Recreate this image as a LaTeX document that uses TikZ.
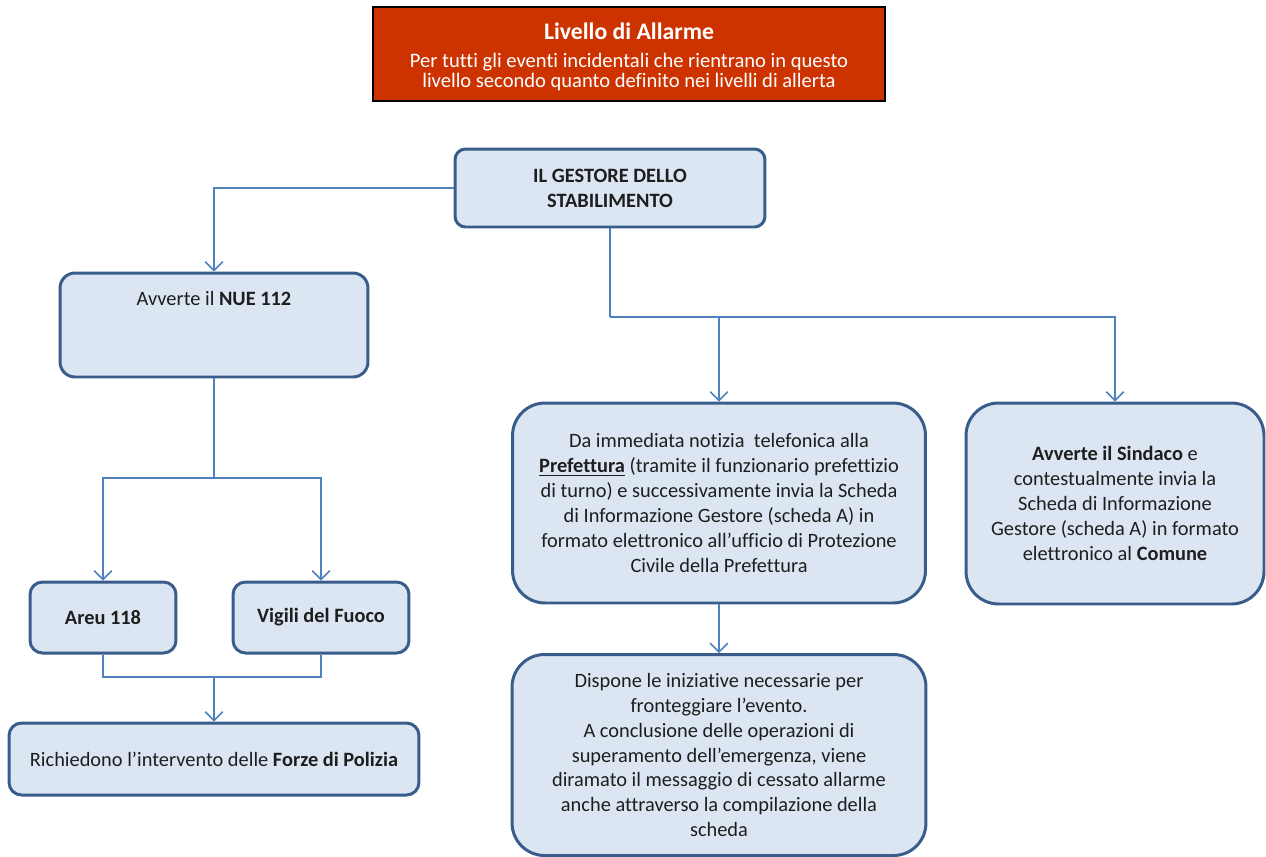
\documentclass[tikz,border=0pt]{standalone}
\usepackage{fontspec}
\setmainfont{Carlito}[RawFeature=-liga]
\usetikzlibrary{arrows.meta}
\definecolor{boxfill}{RGB}{220,230,242}
\definecolor{boxline}{RGB}{56,93,138}
\definecolor{linkline}{RGB}{79,129,189}
\definecolor{alarmred}{RGB}{204,51,0}
\definecolor{txt}{RGB}{30,30,30}

\begin{document}
\begin{tikzpicture}[x=0.02cm,y=-0.02cm,
  >={Straight Barb[length=5pt,width=10pt]},
  font=\fontsize{11.6}{14.2}\selectfont,
  box/.style={draw=boxline,line width=1.7pt,fill=boxfill,rounded corners=#1,text=txt,align=center,inner sep=0pt},
  box/.default=6pt,
  conn/.style={draw=linkline,line width=0.9pt}]
  \useasboundingbox (0,0) rectangle (1266,856);
  % alarm level banner
  \node[draw=black,line width=1.2pt,fill=alarmred,
    minimum width=10.24cm,minimum height=1.88cm,inner sep=0pt] (alarm) at (629,54) {};
  \node[text=white,align=center,font=\fontsize{11.7}{11.6}\selectfont] (alarmtxt) at (629,57)
    {{\fontsize{13.5}{16}\selectfont\bfseries Livello di Allarme}\\[4pt]
     Per tutti gli eventi incidentali che rientrano in questo\\
     livello secondo quanto definito nei livelli di allerta};
  % boxes
  \node[box=6pt,minimum width=6.2cm,minimum height=1.56cm] (gestore) at (610,188)
    {\textbf{IL GESTORE DELLO}\\\textbf{STABILIMENTO}};
  \node[box=0.3cm,minimum width=6.16cm,minimum height=2.08cm] (nue) at (214,325) {};
  \node[text=txt] (nuetxt) at (214,298) {Avverte il \textbf{NUE 112}};
  \node[box=0.25cm,minimum width=2.92cm,minimum height=1.42cm] (areu) at (103,617.5) {\textbf{Areu 118}};
  \node[box=0.25cm,minimum width=3.52cm,minimum height=1.42cm] (vigili) at (321,617.5) {\textbf{Vigili del Fuoco}};
  \node[box=0.25cm,minimum width=8.2cm,minimum height=1.44cm] (forze) at (214,759)
    {Richiedono l’intervento delle \textbf{Forze di Polizia}};
  \node[box=0.65cm,minimum width=8.26cm,minimum height=4cm] (pref) at (719,503)
    {Da immediata notizia\ \ telefonica alla\\
     \underline{\textbf{Prefettura}} (tramite il funzionario prefettizio\\
     di turno) e successivamente invia la Scheda\\
     di Informazione Gestore (scheda A) in\\
     formato elettronico all’ufficio di Protezione\\
     Civile della Prefettura};
  \node[box=0.65cm,minimum width=5.96cm,minimum height=4.02cm] (sindaco) at (1115,503.5)
    {\textbf{Avverte il Sindaco} e\\
     contestualmente invia la\\
     Scheda di Informazione\\
     Gestore (scheda A) in formato\\
     elettronico al \textbf{Comune}};
  \node[box=0.65cm,minimum width=8.28cm,minimum height=4.02cm] (scheda) at (719,755)
    {Dispone le iniziative necessarie per\\
     fronteggiare l’evento.\\
     A conclusione delle operazioni di\\
     superamento dell’emergenza, viene\\
     diramato il messaggio di cessato allarme\\
     anche attraverso la compilazione della\\
     scheda};
  % connectors
  \coordinate (nuesplit) at (214,478);
  \coordinate (nuejoin) at (214,677);
  \coordinate (gestsplit) at (610,317);
  \draw[conn,->] (gestore.west) -| (nue.north);
  \draw[conn] (nue.south) -- (nuesplit);
  \draw[conn,->] (nuesplit) -| (areu.north);
  \draw[conn,->] (nuesplit) -| (vigili.north);
  \draw[conn] (areu.south) |- (nuejoin) -| (vigili.south);
  \draw[conn,->] (nuejoin) -- (forze.north);
  \draw[conn] (gestore.south) -- (gestsplit);
  \draw[conn,->] (gestsplit) -| (sindaco.north);
  \draw[conn,->] (gestsplit -| pref.north) -- (pref.north);
  \draw[conn,->] (pref.south) -- (scheda.north);
\end{tikzpicture}
\end{document}
